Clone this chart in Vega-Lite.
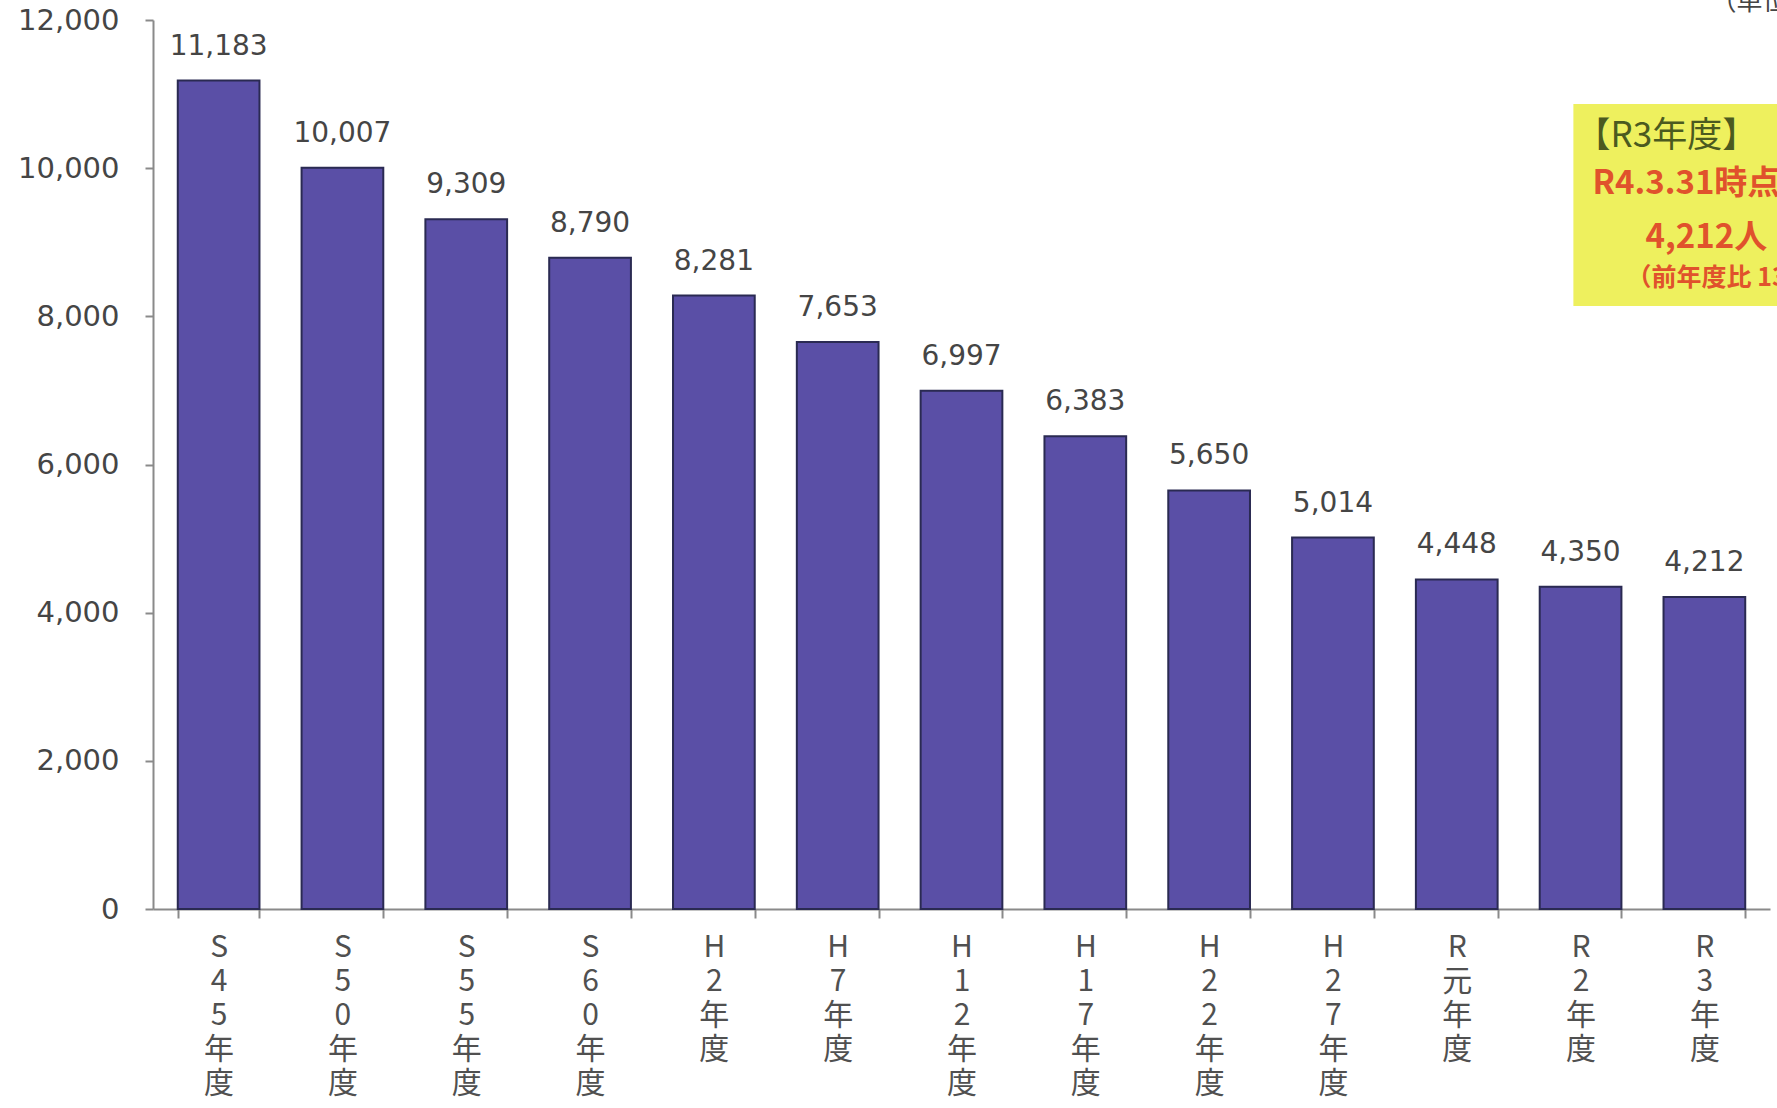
{
  "$schema": "https://vega.github.io/schema/vega-lite/v6.json",
  "autosize": {"type": "none"},
  "width": 1617,
  "height": 889,
  "padding": {"left": 153, "top": 20, "right": 7, "bottom": 199},
  "background": "#ffffff",
  "config": {"view": {"stroke": null}},
  "datasets": {
    "bars": [
      {"year": "S45年度", "value": 11183},
      {"year": "S50年度", "value": 10007},
      {"year": "S55年度", "value": 9309},
      {"year": "S60年度", "value": 8790},
      {"year": "H2年度", "value": 8281},
      {"year": "H7年度", "value": 7653},
      {"year": "H12年度", "value": 6997},
      {"year": "H17年度", "value": 6383},
      {"year": "H22年度", "value": 5650},
      {"year": "H27年度", "value": 5014},
      {"year": "R元年度", "value": 4448},
      {"year": "R2年度", "value": 4350},
      {"year": "R3年度", "value": 4212}
    ],
    "box": [{"year": "R3年度", "top": 10867, "bottom": 8140}],
    "notes": [
      {"year": "R3年度", "v": 10435, "text": "【R3年度】", "kind": "head"},
      {"year": "R3年度", "v": 9787, "text": "R4.3.31時点", "kind": "date"},
      {"year": "R3年度", "v": 9058, "text": "4,212人", "kind": "num"},
      {"year": "R3年度", "v": 8518, "text": "（前年度比 138人減）", "kind": "sub"}
    ],
    "unit": [{"year": "R3年度", "v": 12243, "text": "（単位：人）"}]
  },
  "layer": [
    {
      "data": {"name": "bars"},
      "mark": {"type": "bar", "color": "#5a4fa6", "stroke": "#2a2a52", "strokeWidth": 2},
      "encoding": {
        "x": {
          "field": "year", "type": "nominal", "sort": null,
          "scale": {"paddingInner": 0.34, "paddingOuter": 0.2},
          "axis": {
            "title": null,
            "labelAngle": 0,
            "labelExpr": "split(datum.label, '')",
            "labelFont": "Noto Sans CJK JP",
            "labelFontSize": 30,
            "labelLineHeight": 34,
            "labelColor": "#505050",
            "labelBaseline": "top",
            "labelPadding": 14,
            "labelOverlap": false,
            "tickBand": "extent",
            "tickSize": 9,
            "tickColor": "#8a8a8a",
            "tickWidth": 2,
            "domainColor": "#8a8a8a",
            "domainWidth": 2
          }
        },
        "y": {
          "field": "value", "type": "quantitative",
          "scale": {"domain": [0, 12000], "nice": false},
          "axis": {
            "title": null,
            "values": [0, 2000, 4000, 6000, 8000, 10000, 12000],
            "labelExpr": "format(datum.value, ',')",
            "grid": false,
            "labelFont": "DejaVu Sans",
            "labelFontSize": 29,
            "labelColor": "#454545",
            "labelPadding": 26,
            "tickSize": 8,
            "tickColor": "#8a8a8a",
            "tickWidth": 2,
            "domainColor": "#8a8a8a",
            "domainWidth": 2
          }
        }
      }
    },
    {
      "data": {"name": "bars"},
      "mark": {"type": "text", "font": "DejaVu Sans", "fontSize": 28, "color": "#454545", "baseline": "bottom", "dy": -20},
      "encoding": {
        "x": {"field": "year", "type": "nominal", "sort": null},
        "y": {"field": "value", "type": "quantitative"},
        "text": {"field": "value", "type": "quantitative", "format": ","}
      }
    },
    {
      "data": {"name": "box"},
      "mark": {"type": "bar", "color": "#eef05e", "width": 262},
      "encoding": {
        "x": {"field": "year", "type": "nominal", "sort": null},
        "y": {"field": "top", "type": "quantitative"},
        "y2": {"field": "bottom"}
      }
    },
    {
      "data": {"name": "notes"},
      "transform": [{"filter": "datum.kind == 'head'"}],
      "mark": {"type": "text", "font": "Noto Sans CJK JP", "fontSize": 35, "fontWeight": "normal", "color": "#4b5a1f", "align": "left", "baseline": "middle", "dx": -88},
      "encoding": {
        "x": {"field": "year", "type": "nominal", "sort": null, "bandPosition": 0},
        "y": {"field": "v", "type": "quantitative"},
        "text": {"field": "text"}
      }
    },
    {
      "data": {"name": "notes"},
      "transform": [{"filter": "datum.kind == 'date'"}],
      "mark": {"type": "text", "font": "Noto Sans CJK JP", "fontSize": 33, "fontWeight": "bold", "color": "#e0522c", "align": "left", "baseline": "middle", "dx": -71},
      "encoding": {
        "x": {"field": "year", "type": "nominal", "sort": null, "bandPosition": 0},
        "y": {"field": "v", "type": "quantitative"},
        "text": {"field": "text"}
      }
    },
    {
      "data": {"name": "notes"},
      "transform": [{"filter": "datum.kind == 'num'"}],
      "mark": {"type": "text", "font": "Noto Sans CJK JP", "fontSize": 33, "fontWeight": "bold", "color": "#e0522c", "align": "left", "baseline": "middle", "dx": -18},
      "encoding": {
        "x": {"field": "year", "type": "nominal", "sort": null, "bandPosition": 0},
        "y": {"field": "v", "type": "quantitative"},
        "text": {"field": "text"}
      }
    },
    {
      "data": {"name": "notes"},
      "transform": [{"filter": "datum.kind == 'sub'"}],
      "mark": {"type": "text", "font": "Noto Sans CJK JP", "fontSize": 25, "fontWeight": "bold", "color": "#e0522c", "align": "left", "baseline": "middle", "dx": -37},
      "encoding": {
        "x": {"field": "year", "type": "nominal", "sort": null, "bandPosition": 0},
        "y": {"field": "v", "type": "quantitative"},
        "text": {"field": "text"}
      }
    },
    {
      "data": {"name": "unit"},
      "mark": {"type": "text", "font": "Noto Sans CJK JP", "fontSize": 26, "color": "#454545", "align": "left", "baseline": "middle", "dx": 47},
      "encoding": {
        "x": {"field": "year", "type": "nominal", "sort": null, "bandPosition": 0},
        "y": {"field": "v", "type": "quantitative"},
        "text": {"field": "text"}
      }
    }
  ]
}
